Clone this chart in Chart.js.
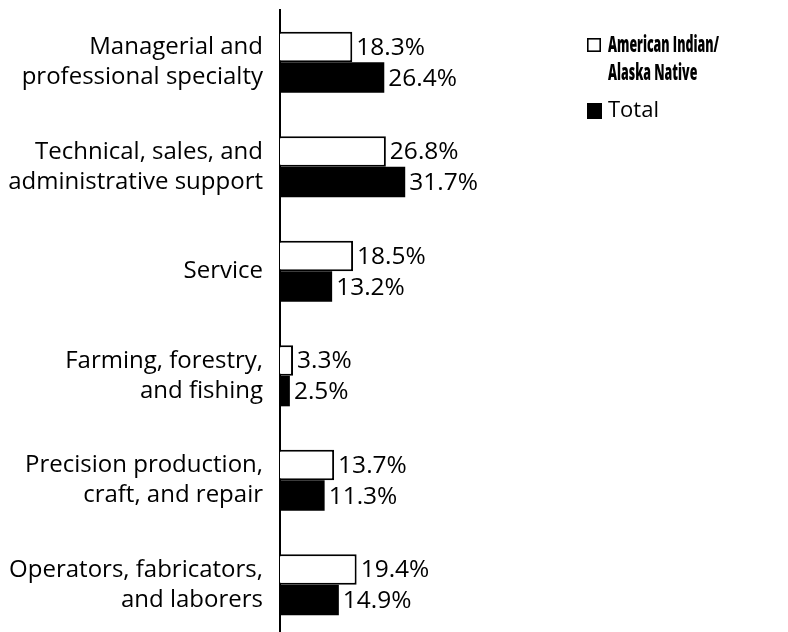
<!DOCTYPE html>
<html>
<head>
<meta charset="utf-8">
<script src="https://cdn.jsdelivr.net/npm/chart.js@4/dist/chart.umd.min.js"></script>
<style>
  html, body { margin: 0; padding: 0; background: #fff; overflow: hidden; }
  #frame { width: 788px; height: 632px; overflow: hidden; }
  canvas { display: block; }
</style>
</head>
<body>
<div id="frame"><canvas id="chart" width="788" height="640"></canvas></div>
<script>
// Occupation groups (wrapped onto two lines where needed)
const categories = [
  ['Managerial and', 'professional specialty'],
  ['Technical, sales, and', 'administrative support'],
  ['Service'],
  ['Farming, forestry,', 'and fishing'],
  ['Precision production,', 'craft, and repair'],
  ['Operators, fabricators,', 'and laborers']
];

// Percent of employed persons in each group
const americanIndian = [18.3, 26.8, 18.5, 3.3, 13.7, 19.4];
const total = [26.4, 31.7, 13.2, 2.5, 11.3, 14.9];

const seriesNames = [['American Indian/', 'Alaska Native'], ['Total']];

const FONT = "'Open Sans', 'Noto Sans', sans-serif";

// Percent labels just past the end of each bar
const valueLabels = {
  id: 'valueLabels',
  afterDatasetsDraw(chart) {
    const ctx = chart.ctx;
    ctx.save();
    ctx.font = '24.5px ' + FONT;
    ctx.fillStyle = '#000';
    ctx.textAlign = 'left';
    ctx.textBaseline = 'middle';
    chart.data.datasets.forEach((ds, di) => {
      const meta = chart.getDatasetMeta(di);
      meta.data.forEach((bar, i) => {
        ctx.fillText(ds.data[i].toFixed(1) + '%', bar.x + 4, bar.y + 1);
      });
    });
    ctx.restore();
  }
};

// Legend box in the upper right; the first entry uses a condensed heavy face
const sideLegend = {
  id: 'sideLegend',
  afterDraw(chart) {
    const ctx = chart.ctx;
    const x0 = 587, boxSize = 14;
    const rows = [
      { y: 38, bold: true },
      { y: 103, bold: false }
    ];
    const boldFont = '800 22px ' + FONT;
    ctx.save();
    chart.data.datasets.forEach((ds, di) => {
      const r = rows[di];
      if (ds.backgroundColor === '#ffffff') {
        ctx.fillStyle = '#fff';
        ctx.fillRect(x0, r.y, boxSize, boxSize);
        ctx.strokeStyle = '#000';
        ctx.lineWidth = 1.6;
        ctx.strokeRect(x0 + 0.8, r.y + 0.8, boxSize - 1.6, boxSize - 1.6);
      } else {
        ctx.fillStyle = '#000';
        ctx.fillRect(x0, r.y, boxSize + 1, boxSize + 2);
      }
      ctx.fillStyle = '#000';
      ctx.textAlign = 'left';
      ctx.textBaseline = 'alphabetic';
      let squeeze = 1;
      if (r.bold) {
        ctx.font = boldFont;
        squeeze = 111 / ctx.measureText(seriesNames[di][0]).width;
      }
      seriesNames[di].forEach((line, li) => {
        ctx.save();
        ctx.translate(x0 + 21, r.y + 14 + li * 28);
        if (r.bold) {
          ctx.scale(squeeze, 1);
          ctx.font = boldFont;
        } else {
          ctx.font = '22px ' + FONT;
        }
        ctx.fillText(line, 0, 0);
        ctx.restore();
      });
    });
    ctx.restore();
  }
};

new Chart(document.getElementById('chart'), {
  type: 'bar',
  data: {
    labels: categories,
    datasets: [
      {
        label: seriesNames[0].join(' '),
        data: americanIndian,
        backgroundColor: '#ffffff',
        borderColor: '#000000',
        borderWidth: 2,
        borderSkipped: 'start'
      },
      {
        label: seriesNames[1].join(' '),
        data: total,
        backgroundColor: '#000000',
        borderWidth: 0
      }
    ]
  },
  options: {
    indexAxis: 'y',
    responsive: false,
    animation: false,
    devicePixelRatio: 1,
    layout: { padding: { top: 10, bottom: 3, left: 0, right: 113 } },
    datasets: {
      bar: { barPercentage: 1, categoryPercentage: 0.585 }
    },
    scales: {
      x: {
        display: false,
        min: 0,
        max: 100
      },
      y: {
        afterFit(scale) {
          scale.width = 280;
          scale.paddingTop = 0;
          scale.paddingBottom = 0;
        },
        grid: { display: false, drawTicks: false },
        border: { display: true, color: '#000', width: 2 },
        ticks: {
          color: '#000',
          padding: 17,
          font: { family: FONT, size: 24, lineHeight: 1.25 }
        }
      }
    },
    plugins: {
      legend: { display: false },
      tooltip: { enabled: false }
    }
  },
  plugins: [valueLabels, sideLegend]
});
</script>
</body>
</html>
